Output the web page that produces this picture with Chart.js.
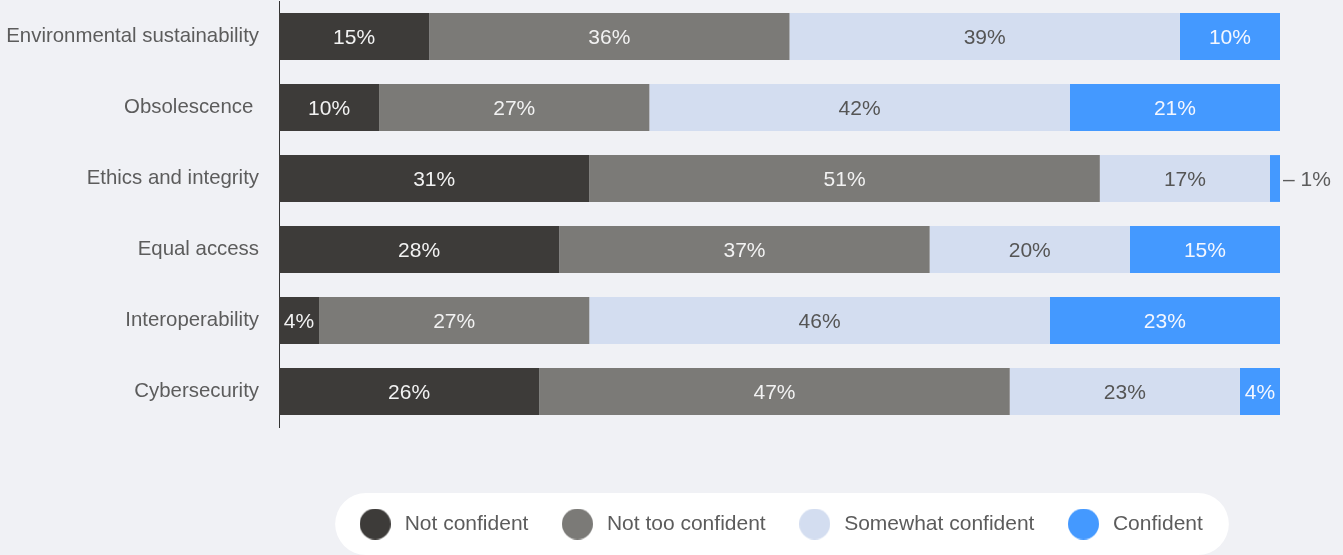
<!DOCTYPE html>
<html>
<head>
<meta charset="utf-8">
<script src="https://cdn.jsdelivr.net/npm/chart.js@4/dist/chart.umd.min.js"></script>
<style>
  html, body { margin: 0; padding: 0; background: #f0f1f5; }
  #wrap { width: 1343px; height: 555px; position: relative; }
</style>
</head>
<body>
<div id="wrap"><canvas id="chartConfidence"></canvas></div>
<script>
const categories = ["Environmental sustainability", "Obsolescence ", "Ethics and integrity", "Equal access", "Interoperability", "Cybersecurity"];
const notConfident = [15, 10, 31, 28, 4, 26];
const notTooConfident = [36, 27, 51, 37, 27, 47];
const somewhatConfident = [39, 42, 17, 20, 46, 23];
const confident = [10, 21, 1, 15, 23, 4];

const FONT = "'Liberation Sans', Arial, Helvetica, sans-serif";
const TEXT_GRAY = "#5c5c5c";

// round dots for the legend (bigger than the built-in point style allows)
function dot(color) {
  const c = document.createElement("canvas");
  c.width = 31;
  c.height = 31;
  const g = c.getContext("2d");
  g.fillStyle = color;
  g.beginPath();
  g.arc(15.5, 15.5, 15.5, 0, Math.PI * 2);
  g.fill();
  return c;
}

// percentage labels inside each segment, outside when the segment is too thin
const segmentLabels = {
  id: "segmentLabels",
  afterDatasetsDraw(chart) {
    const ctx = chart.ctx;
    ctx.save();
    ctx.font = "21px " + FONT;
    ctx.textBaseline = "middle";
    chart.data.datasets.forEach((ds, di) => {
      const meta = chart.getDatasetMeta(di);
      meta.data.forEach((bar, i) => {
        const p = bar.getProps(["x", "y", "base"], true);
        const text = ds.data[i] + "%";
        const w = Math.abs(p.x - p.base);
        if (ctx.measureText(text).width + 6 < w) {
          ctx.textAlign = "center";
          ctx.fillStyle = ds.labelColor;
          ctx.fillText(text, (p.x + p.base) / 2, p.y + 2);
        } else {
          ctx.textAlign = "left";
          ctx.fillStyle = TEXT_GRAY;
          ctx.fillText("\u2013 " + text, p.x + 3, p.y + 2);
        }
      });
    });
    ctx.restore();
  },
};

// white pill behind the legend items
const legendPill = {
  id: "legendPill",
  beforeDraw(chart) {
    const lg = chart.legend;
    if (!lg || !lg.legendHitBoxes || !lg.legendHitBoxes.length) return;
    const hb = lg.legendHitBoxes;
    const last = hb[hb.length - 1];
    const left = hb[0].left - 21;
    const right = last.left + last.width + 26;
    const cy = hb[0].top + hb[0].height / 2;
    const r = 31;
    const ctx = chart.ctx;
    ctx.save();
    ctx.fillStyle = "#ffffff";
    ctx.beginPath();
    ctx.moveTo(left + r, cy - r);
    ctx.lineTo(right - r, cy - r);
    ctx.arc(right - r, cy, r, -Math.PI / 2, Math.PI / 2);
    ctx.lineTo(left + r, cy + r);
    ctx.arc(left + r, cy, r, Math.PI / 2, Math.PI * 1.5);
    ctx.closePath();
    ctx.fill();
    ctx.restore();
  },
};

const colors = ["#3d3b39", "#7b7a77", "#d3ddf0", "#4499ff"];
const dots = colors.map(dot);

new Chart(document.getElementById("chartConfidence"), {
  type: "bar",
  data: {
    labels: categories,
    datasets: [
      { label: "Not confident", data: notConfident, backgroundColor: colors[0], labelColor: "#f2f2f2" },
      { label: "Not too confident", data: notTooConfident, backgroundColor: colors[1], labelColor: "#f2f2f2" },
      { label: "Somewhat confident", data: somewhatConfident, backgroundColor: colors[2], labelColor: "#555555" },
      { label: "Confident", data: confident, backgroundColor: colors[3], labelColor: "#f4f7ff" },
    ],
  },
  options: {
    indexAxis: "y",
    responsive: true,
    maintainAspectRatio: false,
    animation: false,
    datasets: {
      bar: { barPercentage: 0.66, categoryPercentage: 1 },
    },
    layout: {
      padding: { top: 1, right: 63, bottom: 10.5, left: 0 },
    },
    scales: {
      x: {
        stacked: true,
        min: 0,
        max: 100,
        ticks: { display: false },
        grid: { display: false, drawTicks: false },
        border: { display: false },
        afterFit(scale) {
          scale.height = 56.5;
          scale.paddingLeft = 0;
          scale.paddingRight = 0;
        },
      },
      y: {
        stacked: true,
        grid: { display: false, drawTicks: false },
        border: { display: true, color: "#333333", width: 1 },
        ticks: {
          padding: 20,
          color: TEXT_GRAY,
          font: { family: FONT, size: 20.4 },
        },
        afterFit(scale) {
          scale.width = 279;
          scale.paddingTop = 0;
          scale.paddingBottom = 0;
        },
      },
    },
    plugins: {
      tooltip: { enabled: false },
      legend: {
        position: "bottom",
        fullSize: false,
        labels: {
          usePointStyle: true,
          pointStyleWidth: 38,
          padding: 30,
          color: TEXT_GRAY,
          font: { family: FONT, size: 21 },
          generateLabels(chart) {
            const items = Chart.defaults.plugins.legend.labels.generateLabels(chart);
            items.forEach((it, i) => {
              it.pointStyle = dots[i];
            });
            return items;
          },
        },
      },
    },
  },
  plugins: [legendPill, segmentLabels],
});
</script>
</body>
</html>
